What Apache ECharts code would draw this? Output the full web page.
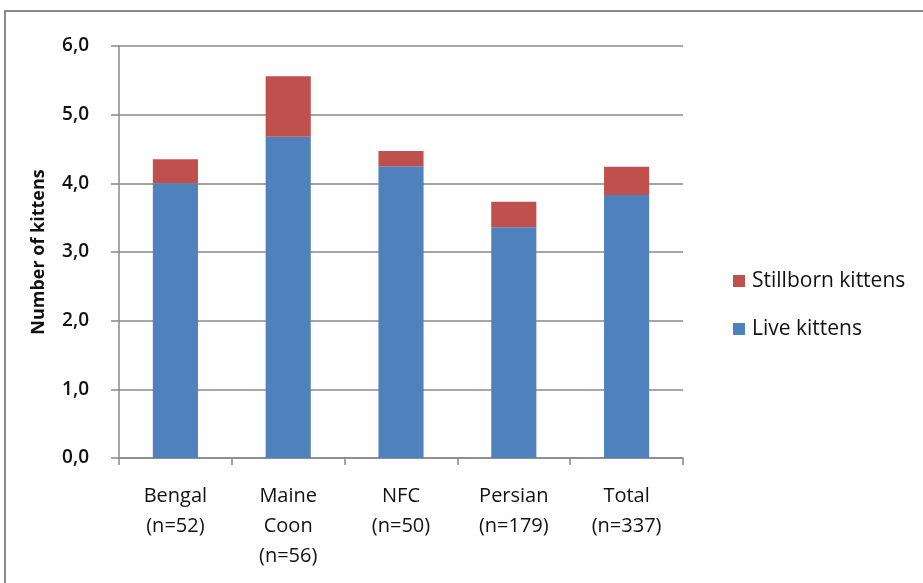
<!DOCTYPE html>
<html>
<head>
<meta charset="utf-8">
<script src="https://cdn.jsdelivr.net/npm/echarts@6/dist/echarts.min.js"></script>
<style>
html,body{margin:0;padding:0;background:#fff;}
#chart{width:923px;height:583px;}
</style>
</head>
<body>
<div id="chart"></div>
<script>
var categories = ['Bengal\n(n=52)', 'Maine\nCoon\n(n=56)', 'NFC\n(n=50)', 'Persian\n(n=179)', 'Total\n(n=337)'];
var liveKittens = [4.0, 4.68, 4.25, 3.36, 3.83];
var stillbornKittens = [0.35, 0.88, 0.22, 0.37, 0.41];
var yTicks = [0, 1, 2, 3, 4, 5, 6];

var FONT = '"Open Sans", Lato, sans-serif';
var chart = echarts.init(document.getElementById('chart'), null, {renderer: 'canvas'});
chart.setOption({
  backgroundColor: '#fff',
  animation: false,
  graphic: [{
    type: 'rect',
    shape: {x: 5, y: 11, width: 1000, height: 1000},
    style: {fill: 'none', stroke: '#666', lineWidth: 1.5},
    silent: true
  }],
  grid: {left: 119, right: 240, top: 46, bottom: 125, containLabel: false},
  legend: {
    orient: 'vertical',
    left: 728,
    top: 265,
    itemWidth: 12,
    itemHeight: 12,
    itemGap: 26,
    icon: 'rect',
    data: ['Stillborn kittens', 'Live kittens'],
    textStyle: {fontFamily: FONT, fontSize: 21, lineHeight: 22, color: '#111', padding: [0, 0, 0, 2]}
  },
  xAxis: {
    type: 'category',
    data: categories,
    axisLine: {lineStyle: {color: '#888', width: 1.5}},
    axisTick: {show: true, length: 7, alignWithLabel: false, lineStyle: {color: '#888', width: 1.5}},
    axisLabel: {fontFamily: FONT, fontSize: 20, color: '#111', lineHeight: 30, margin: 23, interval: 0}
  },
  yAxis: {
    type: 'value',
    min: 0, max: 6, interval: 1,
    name: 'Number of kittens',
    nameLocation: 'middle',
    nameGap: 71,
    nameTextStyle: {fontFamily: FONT, fontSize: 18, fontWeight: 'bold', color: '#111'},
    axisLine: {show: true, lineStyle: {color: '#888', width: 1.5}},
    axisTick: {show: true, length: 8, lineStyle: {color: '#888', width: 1.5}},
    splitLine: {show: true, lineStyle: {color: '#888', width: 1.5}},
    axisLabel: {
      fontFamily: FONT, fontSize: 19, fontWeight: 600, color: '#111', margin: 30,
      formatter: function (v) { return yTicks.indexOf(v) >= 0 ? v.toFixed(1).replace('.', ',') : ''; }
    }
  },
  series: [
    {
      name: 'Live kittens', type: 'bar', stack: 'k', data: liveKittens,
      barWidth: '40%',
      itemStyle: {color: '#4F81BD'}
    },
    {
      name: 'Stillborn kittens', type: 'bar', stack: 'k', data: stillbornKittens,
      barWidth: '40%',
      itemStyle: {color: '#C0504D'}
    }
  ]
});
</script>
</body>
</html>
